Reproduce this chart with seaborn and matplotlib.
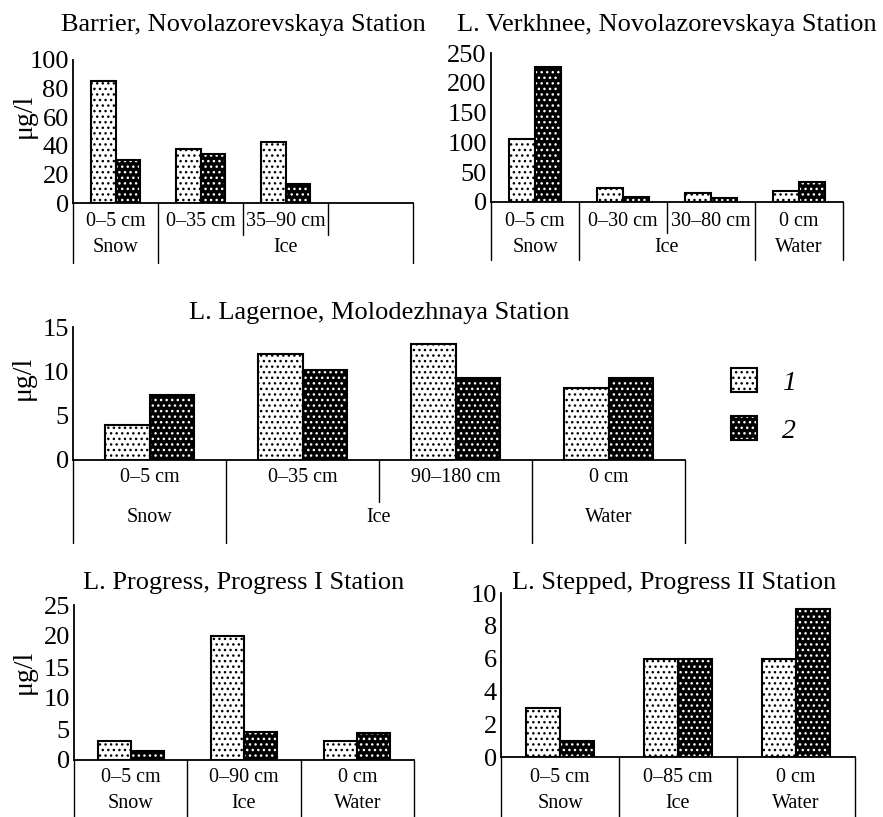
import numpy as np
import pandas as pd
import matplotlib
matplotlib.use("Agg")
import matplotlib.pyplot as plt
import seaborn as sns
from matplotlib.patches import Patch, Rectangle
from matplotlib.legend_handler import HandlerTuple
from matplotlib.transforms import blended_transform_factory

# ---------------------------------------------------------------- data
barrier_depths = ["0–5 cm", "0–35 cm", "35–90 cm", ""]
barrier_media = ["Snow", "Ice", "Ice", "Ice"]
barrier_s1 = [85, 38, 43]
barrier_s2 = [30, 34, 13]

verkhnee_depths = ["0–5 cm", "0–30 cm", "30–80 cm", "0 cm"]
verkhnee_media = ["Snow", "Ice", "Ice", "Water"]
verkhnee_s1 = [105, 23, 15, 18]
verkhnee_s2 = [227, 8, 7, 33]

lagernoe_depths = ["0–5 cm", "0–35 cm", "90–180 cm", "0 cm"]
lagernoe_media = ["Snow", "Ice", "Ice", "Water"]
lagernoe_s1 = [4.0, 12.0, 13.1, 8.1]
lagernoe_s2 = [7.3, 10.2, 9.3, 9.3]

progress_depths = ["0–5 cm", "0–90 cm", "0 cm"]
progress_media = ["Snow", "Ice", "Water"]
progress_s1 = [3.0, 20.0, 3.0]
progress_s2 = [1.4, 4.5, 4.3]

stepped_depths = ["0–5 cm", "0–85 cm", "0 cm"]
stepped_media = ["Snow", "Ice", "Water"]
stepped_s1 = [3, 6, 6]
stepped_s2 = [1, 6, 9]

sample_labels = ["1", "2"]
unit_label = "μg/l"

# ---------------------------------------------------------------- style
sns.set_theme(style="white", rc={
    "axes.edgecolor": "black", "text.color": "black",
    "axes.labelcolor": "black", "xtick.color": "black",
    "ytick.color": "black", "hatch.linewidth": 1.0,
})
plt.rcParams["font.family"] = ["Liberation Serif", "DejaVu Serif"]

FIG_W, FIG_H, DPI = 883, 817, 100
fig = plt.figure(figsize=(FIG_W / DPI, FIG_H / DPI), dpi=DPI)

TITLE_FS, TICK_FS, TABLE_FS, YLAB_FS = 19, 19, 14.5, 20
HATCH = "..."
BAR_LW = 1.5


def add_axes_px(left, right, top, bottom):
    return fig.add_axes([left / FIG_W, 1 - bottom / FIG_H,
                         (right - left) / FIG_W, (bottom - top) / FIG_H])


def style_bars(ax):
    """Dotted fills: black dots on white, white dots on black."""
    for p in list(ax.patches):
        p.set_hatch(HATCH)
        dark = sum(p.get_facecolor()[:3]) < 1.5
        if dark:
            # hatch takes the edge colour, so outline is drawn separately
            p.set_edgecolor("white")
            p.set_linewidth(0)
            ax.add_patch(Rectangle(p.get_xy(), p.get_width(), p.get_height(),
                                   fill=False, edgecolor="black",
                                   linewidth=BAR_LW, zorder=p.get_zorder()))


def draw_panel(ax, depths, media, s1, s2, ymax, ystep, title,
               row1_px, row2_px, bottom_px, short_px, title_cy_px,
               title_x=0.5):
    n = len(depths)
    k = len(s1)
    df = pd.DataFrame({
        "depth": depths[:k] * 2,
        "value": list(s1) + list(s2),
        "sample": [sample_labels[0]] * k + [sample_labels[1]] * len(s2),
    })
    sns.barplot(data=df, x="depth", y="value", hue="sample",
                order=depths, hue_order=sample_labels,
                palette=["white", "black"], saturation=1,
                width=0.58, gap=0, edgecolor="black", linewidth=BAR_LW,
                legend=False, ax=ax)
    style_bars(ax)

    ax.set_xlim(-0.5, n - 0.5)
    ax.set_ylim(0, ymax)
    ax.set_yticks(np.arange(0, ymax + ystep / 2, ystep))
    ax.set_xticks([])
    ax.set_xlabel("")
    ax.set_ylabel("")
    sns.despine(ax=ax)
    for s in ("left", "bottom"):
        ax.spines[s].set_linewidth(1.3)
    ax.tick_params(axis="y", direction="in", length=7, width=1.2,
                   labelsize=TICK_FS, pad=3)

    h_px = ax.get_position().height * FIG_H
    yf = lambda px: -px / h_px
    tr = blended_transform_factory(ax.transData, ax.transAxes)

    # table below the bars: depth row, then medium row
    for i in range(n + 1):
        x = i - 0.5
        if 0 < i < n and media[i - 1] == media[i]:
            y1 = yf(short_px)
        else:
            y1 = yf(bottom_px)
        ax.plot([x, x], [0, y1], color="black", lw=1.0,
                transform=tr, clip_on=False)
    for i, d in enumerate(depths):
        ax.text(i, yf(row1_px), d, transform=tr, ha="center",
                va="center", fontsize=TABLE_FS)
    start = 0
    for i in range(1, n + 1):
        if i == n or media[i] != media[start]:
            ax.text((start + i - 1) / 2, yf(row2_px), media[start],
                    transform=tr, ha="center", va="center",
                    fontsize=TABLE_FS)
            start = i

    ax.text(title_x, 1 + title_cy_px / h_px, title, transform=ax.transAxes,
            ha="center", va="center", fontsize=TITLE_FS)


def ylabel_px(x, y):
    fig.text(x / FIG_W, 1 - y / FIG_H, unit_label, rotation=90,
             ha="center", va="center", fontsize=YLAB_FS)


ax1 = add_axes_px(73, 413, 60, 203)
draw_panel(ax1, barrier_depths, barrier_media, barrier_s1, barrier_s2,
           100, 20, "Barrier, Novolazorevskaya Station",
           19, 45, 60, 32, 35)
ylabel_px(24, 116)

ax2 = add_axes_px(491, 843, 53, 202)
draw_panel(ax2, verkhnee_depths, verkhnee_media, verkhnee_s1, verkhnee_s2,
           250, 50, "L. Verkhnee, Novolazorevskaya Station",
           20, 46, 58, 31, 28)

ax3 = add_axes_px(73, 685, 327, 460)
draw_panel(ax3, lagernoe_depths, lagernoe_media, lagernoe_s1, lagernoe_s2,
           15, 5, "L. Lagernoe, Molodezhnaya Station",
           18, 58, 83, 42, 14)
ylabel_px(23, 378)

ax4 = add_axes_px(74, 414, 605, 760)
draw_panel(ax4, progress_depths, progress_media, progress_s1, progress_s2,
           25, 5, "L. Progress, Progress I Station",
           18, 43, 57, 0, 22)
ylabel_px(24, 672)

ax5 = add_axes_px(501, 855, 593, 757)
draw_panel(ax5, stepped_depths, stepped_media, stepped_s1, stepped_s2,
           10, 2, "L. Stepped, Progress II Station",
           21, 46, 60, 0, 10, title_x=0.489)

# legend for the two sample series
light = Patch(facecolor="white", edgecolor="black", linewidth=BAR_LW,
              hatch=HATCH)
dark = (Patch(facecolor="black", edgecolor="white", linewidth=0,
              hatch=HATCH),
        Patch(fill=False, edgecolor="black", linewidth=BAR_LW))
fig.legend([light, dark], sample_labels, loc="upper left",
           bbox_to_anchor=(731 / FIG_W, 1 - 368 / FIG_H),
           handler_map={tuple: HandlerTuple(ndivide=1, pad=0)},
           frameon=False, borderpad=0, borderaxespad=0,
           handlelength=0.95, handleheight=0.95,
           handletextpad=0.9, labelspacing=0.75,
           prop={"style": "italic", "size": 20})

fig.savefig("out.png", dpi=DPI)
